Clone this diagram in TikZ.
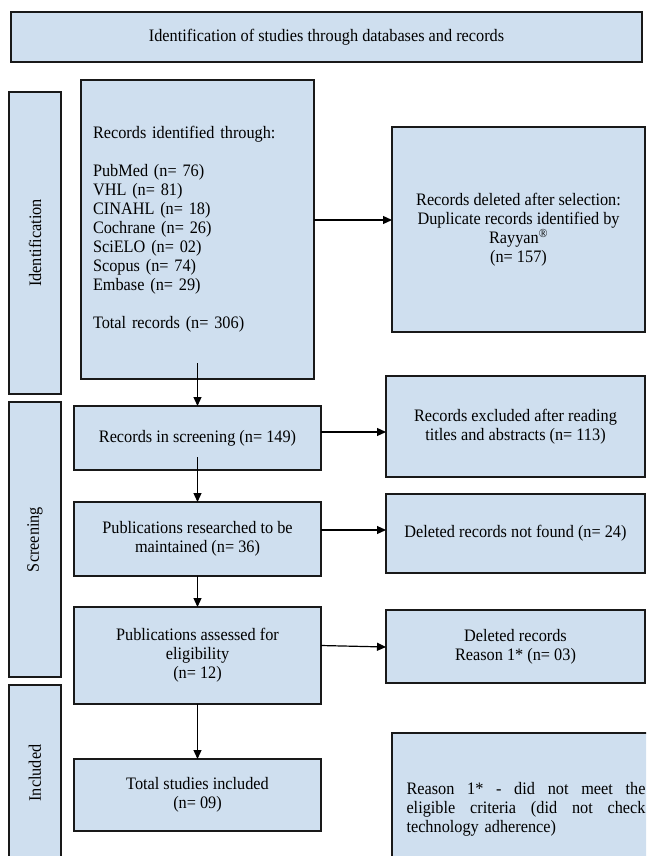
\documentclass[tikz,border=0pt]{standalone}
\usepackage{fontspec}
\usepackage{graphicx}
\setmainfont[FakeStretch=0.93]{Liberation Serif}
\usetikzlibrary{arrows.meta}
\definecolor{boxfill}{RGB}{207,223,239}
\definecolor{boxline}{RGB}{25,25,25}
\newcommand{\jline}[1]{\leavevmode\hbox to 239pt{#1}}
\begin{document}
\begin{tikzpicture}[x=1pt,y=-1pt,
  box/.style={draw=boxline, fill=boxfill, line width=1.3pt, anchor=north west,
    inner sep=0pt, outer sep=0pt, align=center, font=\fontsize{17.5}{19}\selectfont},
  conn/.style={draw=black, line width=1.2pt, -{Triangle[length=9pt,width=8pt]}},
]
\useasboundingbox (0,0) rectangle (646,856);
\clip (0,0) rectangle (646,856);

% title
\node[box, minimum width=631pt, minimum height=50pt] (title) at (11,12)
  {Identification of studies through databases and records};

% side bars
\node[box, minimum width=52pt, minimum height=302pt] (sideid) at (9,92)
  {\rotatebox{90}{Identification}};
\node[box, minimum width=52pt, minimum height=275pt] (sidescr) at (9,402)
  {\rotatebox{90}{Screening}};
\node[box, minimum width=52pt, minimum height=176pt] (sideinc) at (9,685)
  {\rotatebox{90}{Included}};

% left column
\node[box, minimum width=233pt, minimum height=299pt, text width=209pt, align=left] (idbox) at (81,80)
  {Records identified through:\\[19pt]
   PubMed (n= 76)\\
   VHL (n= 81)\\
   CINAHL (n= 18)\\
   Cochrane (n= 26)\\
   SciELO (n= 02)\\
   Scopus (n= 74)\\
   Embase (n= 29)\\[19pt]
   Total records (n= 306)};
\node[box, minimum width=247pt, minimum height=64pt] (scr) at (74,406)
  {Records in screening (n= 149)};
\node[box, minimum width=247pt, minimum height=74pt] (res) at (74,502)
  {Publications researched to be\\ maintained (n= 36)};
\node[box, minimum width=247pt, minimum height=97pt] (ass) at (74,607)
  {Publications assessed for\\ eligibility\\ (n= 12)};
\node[box, minimum width=247pt, minimum height=72pt] (tot) at (74,759)
  {Total studies included\\ (n= 09)};

% right column
\node[box, minimum width=253pt, minimum height=205pt] (del) at (392,127)
  {Records deleted after selection:\\ Duplicate records identified by\\
   Rayyan\textsuperscript{\textregistered}\\ (n= 157)};
\node[box, minimum width=259pt, minimum height=101pt] (exc) at (386,376)
  {Records excluded after reading\\ titles and abstracts (n= 113)};
\node[box, minimum width=259pt, minimum height=79pt] (nf) at (386,494)
  {Deleted records not found (n= 24)};
\node[box, minimum width=259pt, minimum height=73pt] (rea) at (386,610)
  {Deleted records\\ Reason 1* (n= 03)};
\node[box, minimum width=268pt, minimum height=152pt, text width=239pt, align=left] (note) at (392,733)
  {\jline{Reason\hfill 1*\hfill -\hfill did\hfill not\hfill meet\hfill the}\\
   \jline{eligible\hfill criteria\hfill (did\hfill not\hfill check}\\
   technology adherence)};

% connectors
\draw[conn] ([yshift=9.5pt]idbox.east) -- ([yshift=9.5pt]idbox.east -| del.west);
\draw[conn] ([yshift=16pt]idbox.south) -- (scr.north);
\draw[conn] ([yshift=6pt]scr.east) -- ([yshift=6pt]scr.east -| exc.west);
\draw[conn] ([yshift=13pt]scr.south) -- (res.north);
\draw[conn] ([yshift=9pt]res.east) -- ([yshift=9pt]res.east -| nf.west);
\draw[conn] (res.south) -- (ass.north);
\draw[conn] ([yshift=10pt]ass.east) -- ([yshift=8.5pt]ass.east -| rea.west);
\draw[conn] (ass.south) -- (tot.north);
\end{tikzpicture}
\end{document}
